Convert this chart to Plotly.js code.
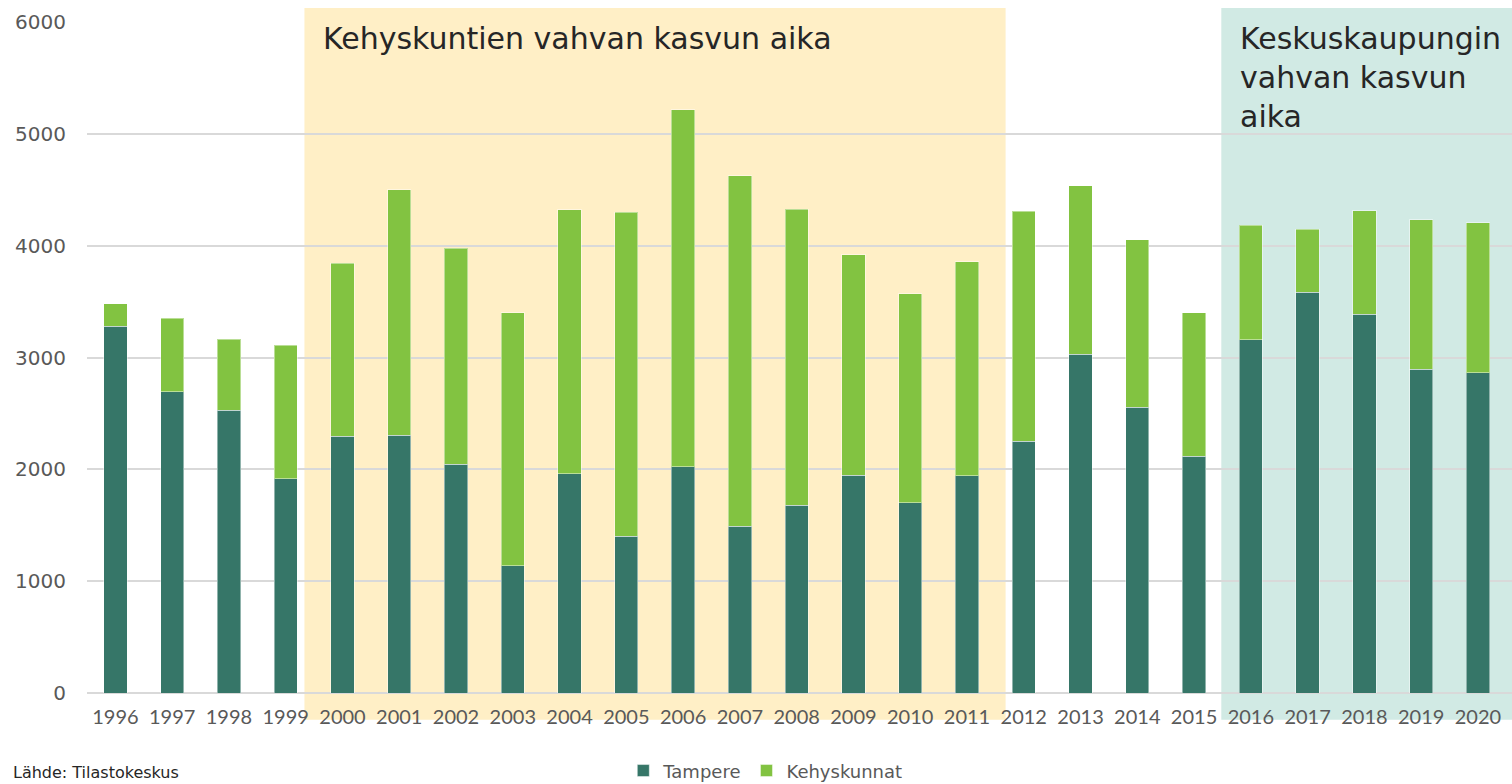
<!DOCTYPE html>
<html>
<head>
<meta charset="utf-8">
<script src="https://cdn.plot.ly/plotly-3.0.1.min.js"></script>
<style>
html,body{margin:0;padding:0;background:#fff;}
#chart{width:1512px;height:784px;}
</style>
</head>
<body>
<div id="chart"></div>
<script>
const years = ["1996","1997","1998","1999","2000","2001","2002","2003","2004","2005","2006","2007","2008","2009","2010","2011","2012","2013","2014","2015","2016","2017","2018","2019","2020"];
const tampere = [3280,2696,2527,1918,2295,2304,2045,1136,1960,1400,2022,1493,1679,1948,1703,1942,2250,3030,2556,2117,3158,3582,3386,2894,2865];
const kehyskunnat = [200,656,634,1193,1550,2196,1930,2262,2360,2898,3192,3131,2648,1973,1867,1914,2056,1505,1496,1283,1025,566,927,1340,1342];
const seriesNames = ["Tampere","Kehyskunnat"];
const yTicks = [0,1000,2000,3000,4000,5000,6000];
const periodLabels = ["Kehyskuntien vahvan kasvun aika","Keskuskaupungin<br>vahvan kasvun<br>aika"];
const sourceText = "Lähde: Tilastokeskus";

const FONT = "Lato, 'Open Sans', sans-serif";
const WIDE = "'DejaVu Sans', sans-serif";
const barLine = {color:"rgba(255,255,255,0.45)", width:1};

const traces = [
  {type:"bar", name:seriesNames[0], x:years, y:tampere, marker:{color:"#367668", line:barLine}, hoverinfo:"skip"},
  {type:"bar", name:seriesNames[1], x:years, y:kehyskunnat, marker:{color:"#82C341", line:barLine}, hoverinfo:"skip"}
];

const layout = {
  width:1512, height:784,
  margin:{l:87, r:0, t:22, b:91, autoexpand:false},
  paper_bgcolor:"#ffffff",
  plot_bgcolor:"rgba(0,0,0,0)",
  barmode:"stack",
  bargap:0.59,
  showlegend:true,
  legend:{orientation:"h", x:0.476, xanchor:"center", y:-0.116, yanchor:"middle",
          font:{family:WIDE, size:18, color:"#595959"}, traceorder:"normal", itemwidth:30},
  xaxis:{type:"category", showgrid:false, zeroline:false, showline:false, ticks:"",
         tickfont:{family:FONT, size:20, color:"#595959"}, ticklabelstandoff:10, fixedrange:true},
  yaxis:{range:[0,6000], tickvals:yTicks, ticktext:yTicks.map(String), showgrid:true, gridcolor:"#D9D9D9", gridwidth:2,
         zeroline:true, zerolinecolor:"#D9D9D9", zerolinewidth:2, showline:false, ticks:"",
         tickfont:{family:WIDE, size:20, color:"#595959"}, ticklabelstandoff:20, fixedrange:true},
  shapes:[
    {type:"rect", layer:"below", xref:"x", yref:"paper", x0:3.33, x1:15.68, y0:-0.04, y1:1.021,
     fillcolor:"#FFEFC6", line:{width:0}},
    {type:"rect", layer:"below", xref:"x", yref:"paper", x0:19.48, x1:24.6, y0:-0.04, y1:1.021,
     fillcolor:"#D1EAE4", line:{width:0}}
  ],
  annotations:[
    {text:periodLabels[0], xref:"x", yref:"paper", x:3.62, y:1.004, xanchor:"left", yanchor:"top",
     showarrow:false, align:"left", font:{family:WIDE, size:30, color:"#262626"}},
    {text:periodLabels[1], xref:"x", yref:"paper", x:19.77, y:1.004, xanchor:"left", yanchor:"top",
     showarrow:false, align:"left", font:{family:WIDE, size:30, color:"#262626"}},
    {text:sourceText, xref:"paper", yref:"paper", x:-0.053, y:-0.1356, xanchor:"left", yanchor:"bottom",
     showarrow:false, align:"left", font:{family:WIDE, size:16, color:"#262626"}}
  ]
};

Plotly.newPlot("chart", traces, layout, {displayModeBar:false, staticPlot:true});
</script>
</body>
</html>
